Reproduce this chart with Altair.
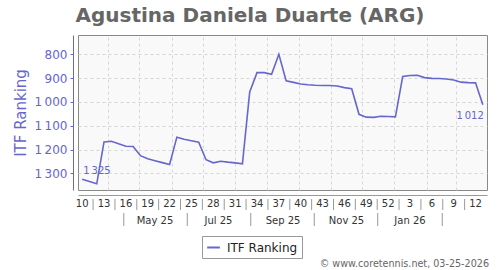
import altair as alt
import pandas as pd

# ---- data -------------------------------------------------------------
weeks = list(range(10, 53)) + list(range(1, 14))
ranks = [1325, 1334, 1344, 1168, 1165, 1176, 1186, 1187, 1226, 1239,
         1247, 1255, 1263, 1148, 1157, 1163, 1169, 1243, 1256, 1249,
         1253, 1256, 1260, 958, 877, 877, 884, 800, 911, 918,
         925, 928, 930, 931, 931, 933, 940, 945, 1052, 1064,
         1065, 1060, 1061, 1063, 893, 889, 888, 898, 901, 902,
         904, 908, 917, 919, 920, 1012]
first_date = "2025-03-07"
month_labels = ["May 25", "Jul 25", "Sep 25", "Nov 25", "Jan 26"]
month_label_dates = ["2025-05-16", "2025-07-16", "2025-09-16", "2025-11-16", "2026-01-16"]
month_sep_dates = ["2025-04-16", "2025-06-16", "2025-08-16", "2025-10-16", "2025-12-16", "2026-02-16"]
grid_months = [(2025, m) for m in range(4, 13)] + [(2026, m) for m in range(1, 4)]
y_ticks = [800, 900, 1000, 1100, 1200, 1300]
title_text = "Agustina Daniela Duarte (ARG)"
footer_text = "\u00a9 www.coretennis.net, 03-25-2026"
series_name = "ITF Ranking"

BLUE = "#6666cc"
THIN = "\u2009"

dates = pd.date_range(first_date, periods=len(ranks), freq="7D")
df = pd.DataFrame({
    "date": dates.strftime("%Y-%m-%dT00:00:00Z"),
    "rank": ranks,
    "week": weeks,
    "series": series_name,
})
df["label"] = [f"{v:,}".replace(",", THIN) for v in ranks]

tick_df = df.iloc[::3][["date", "week"]].copy()
tick_df["wl"] = tick_df["week"].astype(str)
sep_dates = (dates[::3][:-1] + pd.Timedelta(hours=252)).strftime("%Y-%m-%dT%H:%M:%SZ")
sep_df = pd.DataFrame({"date": sep_dates})
mlab_df = pd.DataFrame({"date": [d + "T00:00:00Z" for d in month_label_dates], "m": month_labels})
msep_df = pd.DataFrame({"date": [d + "T00:00:00Z" for d in month_sep_dates]})

# ---- encodings ---------------------------------------------------------
x_scale = alt.Scale(type="utc",
                    domain=[alt.DateTime(year=2025, month=3, date=3, utc=True),
                            alt.DateTime(year=2026, month=3, date=31, utc=True)])
x_axis = alt.Axis(values=[alt.DateTime(year=y, month=m, date=1, utc=True) for y, m in grid_months],
                  grid=True, gridDash=[3, 3], gridColor="#d6d6d6", labels=False,
                  ticks=False, domain=True, domainColor="#999999", offset=5, title=None)
x_enc = alt.X("date:T", scale=x_scale, axis=x_axis)

y_scale = alt.Scale(domain=[719, 1370], reverse=True, nice=False, zero=False)
y_axis = alt.Axis(values=y_ticks, title="ITF Ranking", titleColor=BLUE, titleFontSize=15,
                  titleFontWeight="normal", titlePadding=6, labelColor=BLUE, labelFontSize=12,
                  labelPadding=3,
                  labelExpr="replace(format(datum.value, ','), ',', '" + THIN + "')",
                  domainColor=BLUE, tickColor=BLUE, tickSize=3, offset=5,
                  grid=True, gridDash=[3, 3], gridColor="#d6d6d6")
y_enc = alt.Y("rank:Q", scale=y_scale, axis=y_axis)

line = alt.Chart(df).mark_line(strokeWidth=1.6).encode(
    x=x_enc, y=y_enc,
    color=alt.Color("series:N", scale=alt.Scale(range=[BLUE]),
                    legend=alt.Legend(orient="none", legendX=124, legendY=201, title=None,
                                      symbolType="stroke", symbolSize=160, symbolStrokeWidth=2,
                                      labelFontSize=12, labelColor="#222222", labelOffset=6,
                                      strokeColor="#999999", fillColor="white", padding=4))
)

first_lab = alt.Chart(df.iloc[[0]]).mark_text(
    align="left", baseline="alphabetic", dx=1, dy=-5, fontSize=10, color=BLUE
).encode(x=x_enc, y=y_enc, text="label:N")

last_lab = alt.Chart(df.iloc[[-1]]).mark_text(
    align="right", baseline="alphabetic", dx=1, dy=14, fontSize=10, color=BLUE
).encode(x=x_enc, y=y_enc, text="label:N")

week_text = alt.Chart(tick_df).mark_text(
    baseline="middle", fontSize=10, color="#333333"
).encode(x=x_enc, y=alt.value(169), text="wl:N")

week_sep = alt.Chart(sep_df).mark_rule(color="#999999", strokeWidth=1).encode(
    x=x_enc, y=alt.value(164), y2=alt.value(175))

month_text = alt.Chart(mlab_df).mark_text(
    baseline="middle", fontSize=10, color="#333333"
).encode(x=x_enc, y=alt.value(186), text="m:N")

month_sep = alt.Chart(msep_df).mark_rule(color="#999999", strokeWidth=1).encode(
    x=x_enc, y=alt.value(178), y2=alt.value(191))

title = alt.Chart(pd.DataFrame({"t": [title_text]})).mark_text(
    align="center", baseline="alphabetic", fontSize=20, fontWeight="bold", color="#666666"
).encode(x=alt.value(172), y=alt.value(-13), text="t:N")

footer = alt.Chart(pd.DataFrame({"t": [footer_text]})).mark_text(
    align="right", baseline="middle", fontSize=9.6, color="#666666"
).encode(x=alt.value(411), y=alt.value(229), text="t:N")

chart = alt.layer(line, first_lab, last_lab, week_sep, week_text, month_sep, month_text,
                  title, footer).properties(
    width=409, height=155,
    padding={"left": 78, "top": 35, "right": 13, "bottom": 80},
    autosize=alt.AutoSizeParams(type="none"),
    background="white",
).configure(font="DejaVu Sans").configure_view(
    fill="#f9f9f9", stroke="#888888", strokeWidth=1
)

chart.save("out.html", embed_options={"renderer": "svg", "actions": False})
